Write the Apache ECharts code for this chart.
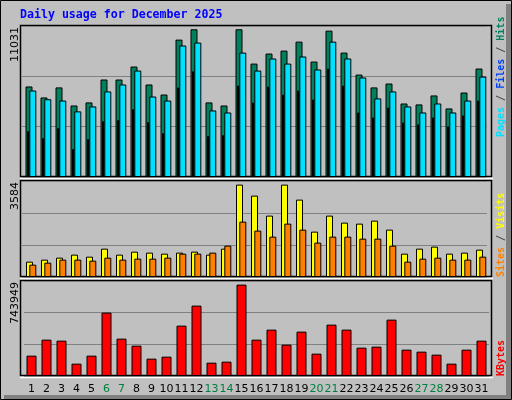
<!DOCTYPE html>
<html><head><meta charset="utf-8">
<script src="https://cdn.jsdelivr.net/npm/echarts@6/dist/echarts.min.js"></script>
<style>html,body{margin:0;padding:0;background:#c0c0c0}#c{width:512px;height:400px}</style>
</head><body><div id="c"></div>
<script>
const days = ['1','2','3','4','5','6','7','8','9','10','11','12','13','14','15','16','17','18','19','20','21','22','23','24','25','26','27','28','29','30','31'];
const weekend = ['6','7','13','14','20','21','27','28'];
const hits = [6760,5940,6690,5340,5570,7280,7280,8250,6910,6160,10260,11031,5570,5340,11031,8470,9220,9440,10110,8620,10930,9290,7650,6690,6980,5490,5420,6090,5120,6310,8100];
const pages = [6460,5810,5710,4900,5270,6390,6910,7950,6010,5710,9820,10040,4970,4820,9290,7950,8850,8470,9000,8030,10110,8850,7430,5870,6390,5270,4820,5490,4820,5710,7500];
const files = [3430,2910,3650,2090,2830,4170,4250,5070,4100,3280,6690,7900,3060,3130,6830,5570,6760,6160,6460,5790,8100,6830,4820,4450,5190,4080,3930,4450,3780,4600,5710];
const visits = [595,673,750,867,789,1100,867,983,945,906,945,983,867,1100,3584,3157,2381,3584,3002,1760,2381,2109,2070,2187,1837,906,1100,1178,906,945,1061];
const sites = [479,556,673,673,634,750,673,712,712,750,906,906,945,1216,2148,1799,1566,2070,1837,1333,1566,1566,1488,1488,1216,595,712,750,673,673,789];
const kbytes = [165600,295900,287800,100500,165600,515900,304100,247100,141200,157500,410000,572900,108600,116700,743949,295900,377400,255200,361100,181900,418100,377400,230800,238900,458800,214500,198200,173800,100500,214500,287800];
const maxLabels = ['11031','3584','743949'];

const panels = [{top:26,h:151,M:11277},{top:181,h:96,M:3724},{top:281,h:95,M:773250}];
const specs = [
  {p:0,left:21.5,data:hits,color:'#00805c',w:7,grid:true},
  {p:0,left:20.5,data:files,color:'#0040ff',w:2},
  {p:0,left:25.3,data:pages,color:'#00e0ff',w:7},
  {p:1,left:22,data:visits,color:'#ffff00',w:7,grid:true},
  {p:1,left:25.3,data:sites,color:'#ff8000',w:7},
  {p:2,left:24,data:kbytes,color:'#ff0000',w:10,grid:true,labels:true}
];
const grid=[],xAxis=[],yAxis=[],series=[];
specs.forEach((s,i)=>{
  const P=panels[s.p];
  grid.push({left:s.left,top:P.top,width:465,height:P.h});
  xAxis.push({type:'category',gridIndex:i,data:days,boundaryGap:true,axisLine:{show:false},axisTick:{show:false},
    axisLabel:s.labels?{show:true,interval:0,hideOverlap:false,margin:8,fontFamily:'DejaVu Sans',fontSize:11,
      formatter:v=>weekend.includes(v)?'{w|'+v+'}':v,color:'#000',rich:{w:{color:'#008040',fontFamily:'DejaVu Sans',fontSize:11}}}:{show:false}});
  yAxis.push({type:'value',gridIndex:i,min:0,max:P.M,interval:P.M/3,axisLabel:{show:false},axisLine:{show:false},axisTick:{show:false},
    splitLine:{show:!!s.grid,lineStyle:{color:'#808080',width:1}}});
  series.push({type:'bar',xAxisIndex:i,yAxisIndex:i,data:s.data,barWidth:s.w,silent:true,animation:false,
    itemStyle:{color:s.color,borderColor:'#000',borderWidth:1}});
});
const graphic=[
  {type:'rect',z:-10,shape:{x:0.5,y:0.5,width:511,height:399},style:{fill:'#c0c0c0',stroke:'#000',lineWidth:1}},
  {type:'rect',z:-9,shape:{x:506,y:4,width:5,height:395},style:{fill:'#808080'}},
  {type:'rect',z:-9,shape:{x:4,y:395,width:507,height:4},style:{fill:'#808080'}},
  {type:'text',x:20,y:9,style:{text:'Daily usage for December 2025',fill:'#0000ff',font:'bold 11.6px "DejaVu Sans Mono"'}}
];
panels.forEach((P,k)=>{
  graphic.push({type:'rect',z:-8,shape:{x:20.5,y:P.top-0.5,width:471,height:P.h},style:{fill:'#c0c0c0',stroke:'#000',lineWidth:1.5}});
  graphic.push({type:'line',z:-7,shape:{x1:20,y1:P.top+P.h+1.5,x2:493,y2:P.top+P.h+1.5},style:{stroke:'#fff',lineWidth:1.5}});
  graphic.push({type:'text',x:10,y:P.top+1,rotation:Math.PI/2,style:{text:maxLabels[k],fill:'#000',font:'11px "DejaVu Sans"',align:'right',verticalAlign:'top'}});
});
const rf='bold 10px "DejaVu Sans Mono"';
function rlabel(y,parts){
  graphic.push({type:'text',x:496,y:y,rotation:Math.PI/2,style:{text:parts.map(p=>'{'+p[1]+'|'+p[0]+'}').join(''),
    align:'left',verticalAlign:'top',rich:{a:{fill:'#00e0ff',font:rf},b:{fill:'#0040ff',font:rf},c:{fill:'#00805c',font:rf},
    s:{fill:'#404040',font:rf},o:{fill:'#ff8000',font:rf},y:{fill:'#ffff00',font:rf},r:{fill:'#ff0000',font:rf}}}});
}
rlabel(137,[['Pages','a'],[' / ','s'],['Files','b'],[' / ','s'],['Hits','c']]);
rlabel(277,[['Sites','o'],[' / ','s'],['Visits','y']]);
rlabel(376,[['KBytes','r']]);
const chart=echarts.init(document.getElementById('c'));
chart.setOption({animation:false,grid,xAxis,yAxis,series,graphic});
</script></body></html>
